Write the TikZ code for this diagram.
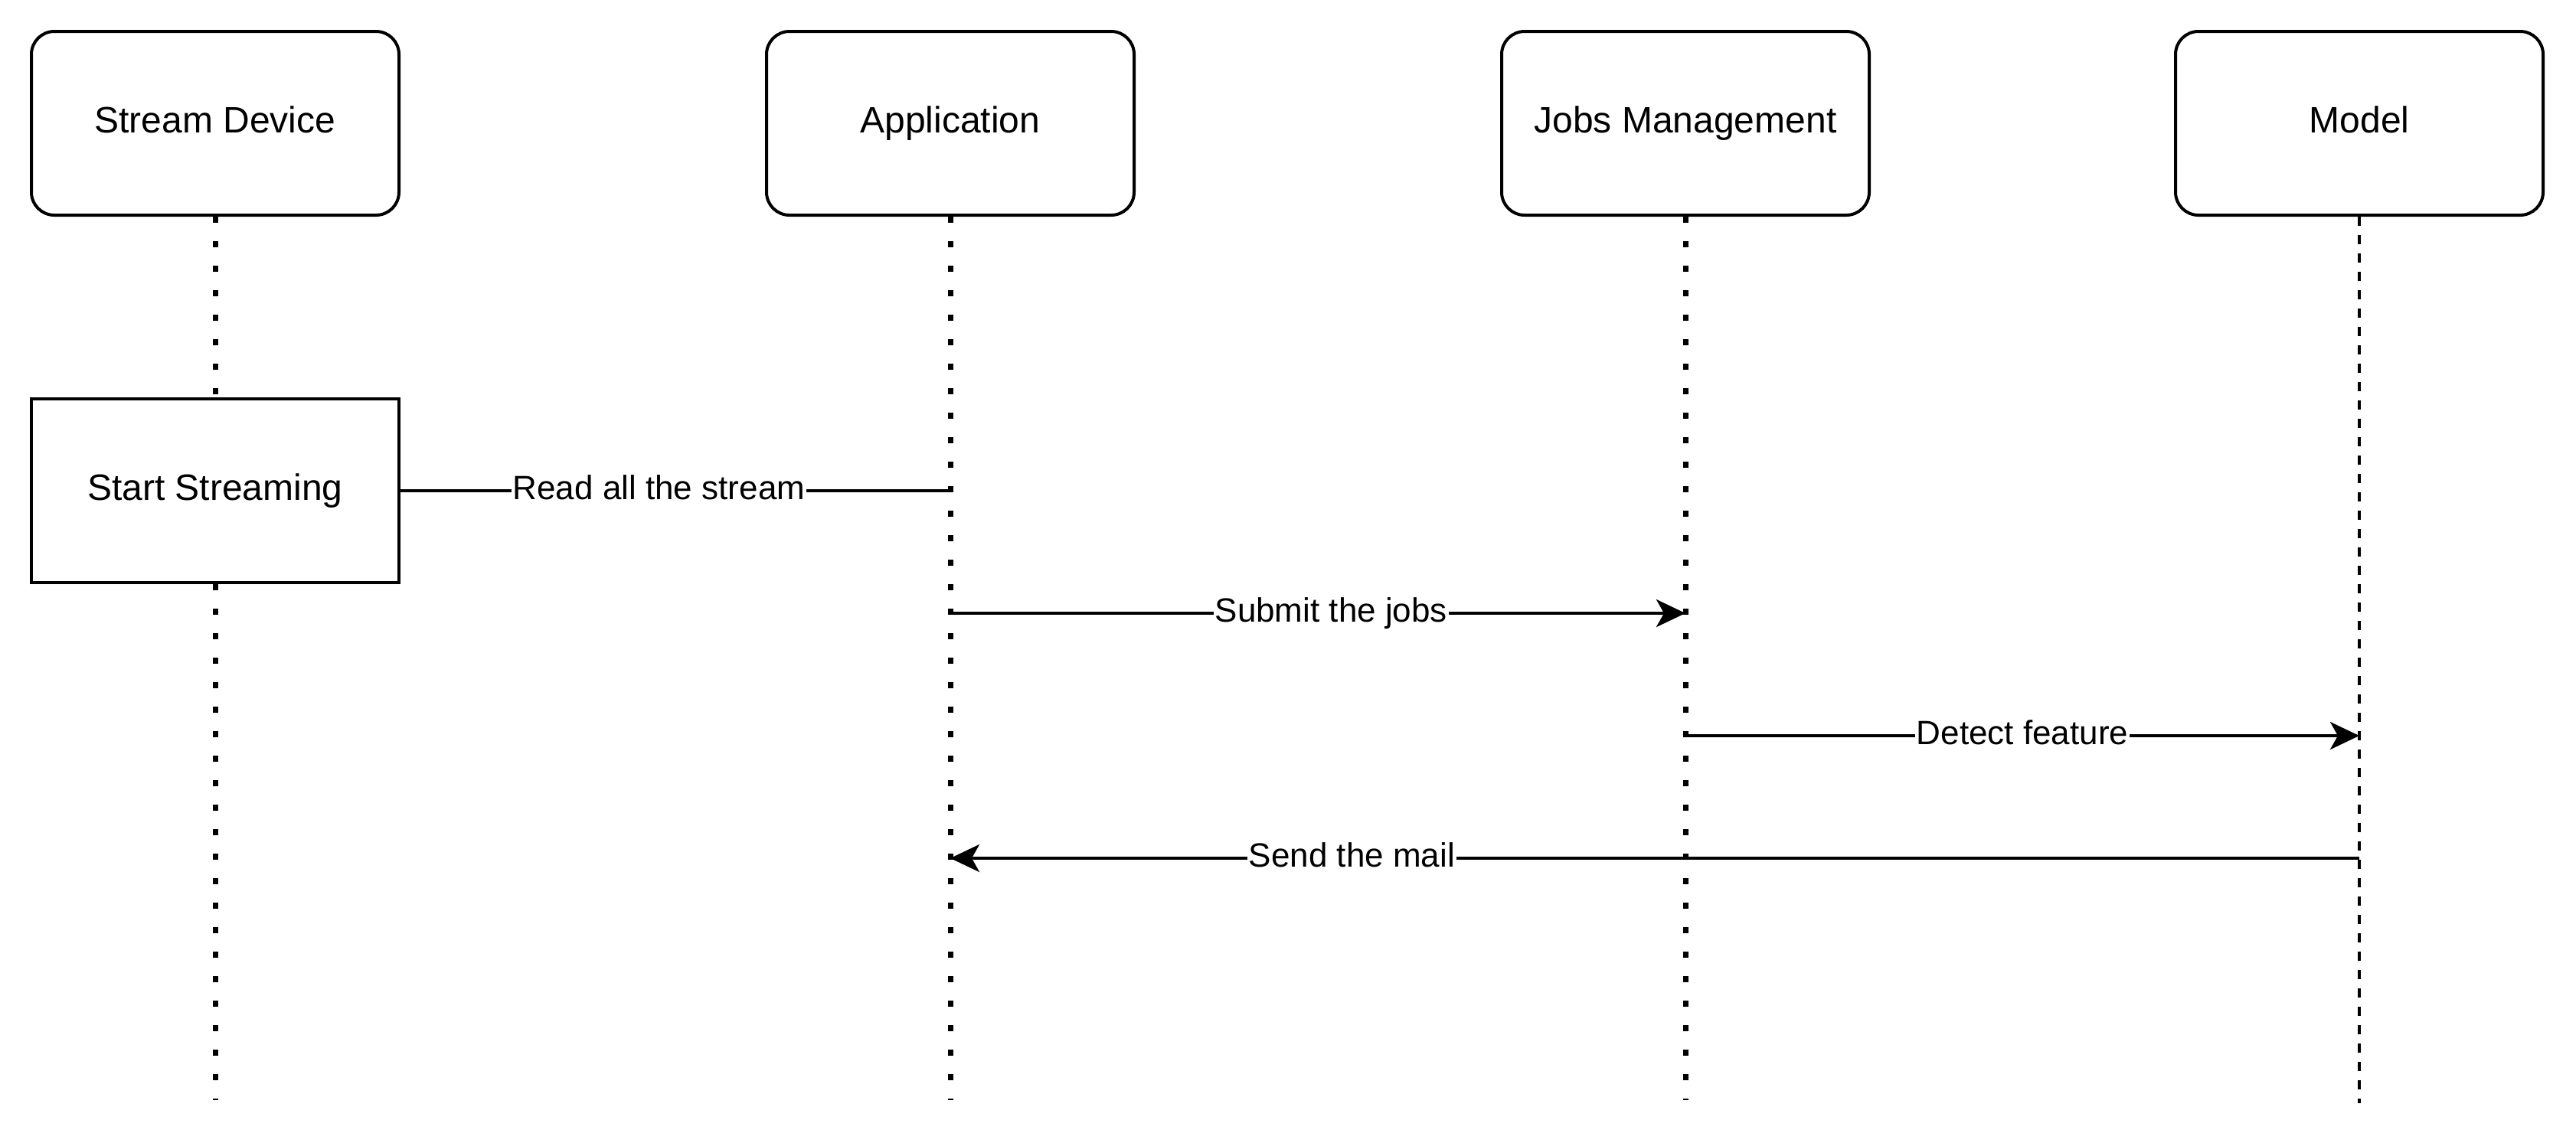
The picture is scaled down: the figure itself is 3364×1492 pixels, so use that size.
\documentclass[tikz,border=0pt]{standalone}
\usepackage{fontspec}
\setmainfont{Liberation Sans}
\usetikzlibrary{arrows.meta}
\begin{document}
\begin{tikzpicture}[x=0.25pt,y=-0.25pt,
 actor/.style={draw,line width=1pt,rounded corners=7.5pt,minimum width=120pt,minimum height=60pt,font=\fontsize{12}{14}\selectfont,fill=white,inner sep=0pt,text height=8.6pt,text depth=2.4pt},
 activity/.style={draw,line width=1pt,minimum width=120pt,minimum height=60pt,font=\fontsize{12}{14}\selectfont,fill=white,inner sep=0pt,text height=8.6pt,text depth=2.4pt},
 lifeline/.style={line width=1.75pt,dash pattern=on 1.9pt off 6.1pt},
 lifedash/.style={line width=1pt,dash pattern=on 3pt off 3pt},
 msg/.style={line width=1pt},
 tip/.style={-{Stealth[length=9.5pt,width=9pt,inset=2.5pt]}},
 lbl/.style={fill=white,inner sep=0.5pt,font=\fontsize{11}{13}\selectfont,text height=7.9pt,text depth=2.2pt}]
\useasboundingbox (0,0) rectangle (3364,1492);
% lifeline ends
\coordinate (sdE) at (281,1437);
\coordinate (appE) at (1241,1437);
\coordinate (jobE) at (2201,1437);
\coordinate (modE) at (3081,1441);
% heads
\node[actor] (sd) at (281,161) {Stream Device};
\node[actor] (app) at (1241,161) {Application};
\node[actor] (job) at (2201,161) {Jobs Management};
\node[actor] (mod) at (3081,161) {Model};
% lifelines
\draw[lifeline] (sd.south) -- (sdE);
\draw[lifeline] (app.south) -- (appE);
\draw[lifeline] (job.south) -- (jobE);
\draw[lifedash] (mod.south) -- (modE);
% activity
\node[activity] (ss) at (281,641) {Start Streaming};
% message anchors
\coordinate (appA) at (1241,801);
\coordinate (jobA) at (2201,801);
\coordinate (jobB) at (2201,961);
\coordinate (modB) at (3081,961);
\coordinate (modC) at (3081,1121);
\coordinate (appC) at (1241,1121);
% messages
\draw[msg] (ss.east) -- (ss.east -| app.south) node[lbl,pos=0.47] {Read all the stream};
\draw[msg,tip] (appA) -- (jobA) node[lbl,pos=0.518] {Submit the jobs};
\draw[msg,tip] (jobB) -- (modB) node[lbl,pos=0.5] {Detect feature};
\draw[msg,tip] (modC) -- (appC) node[lbl,pos=0.715] {Send the mail};
\end{tikzpicture}
\end{document}
